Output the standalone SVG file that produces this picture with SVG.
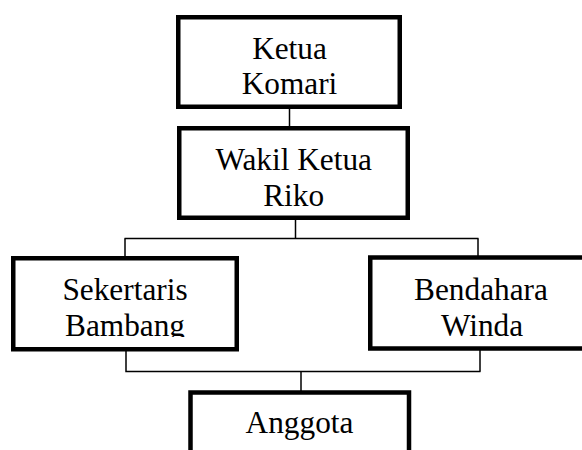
<svg xmlns="http://www.w3.org/2000/svg" width="582" height="450" viewBox="0 0 582 450">
<style>
.box{fill:#fff;stroke:#000;stroke-width:4.5}
.lbl{font-family:"Liberation Serif","Times New Roman",serif;font-size:31.3px;fill:#000;text-anchor:middle}
.conn{fill:none;stroke:#000;stroke-width:1.5}
</style>
<defs>
<clipPath id="clipSek"><rect x="0" y="0" width="300" height="337"/></clipPath>
<clipPath id="clipAng"><rect x="0" y="0" width="582" height="434.5"/></clipPath>
</defs>
<rect width="582" height="450" fill="#fff"/>
<g id="connectors">
<path class="conn" d="M289.5 107 V126"/>
<path class="conn" d="M295.5 218 V238.5"/>
<path class="conn" d="M124.5 238.5 H478.5"/>
<path class="conn" d="M125 238.5 V256"/>
<path class="conn" d="M478 238.5 V256"/>
<path class="conn" d="M126 351 V371.5 H480.5"/>
<path class="conn" d="M480 350 V371.5"/>
<path class="conn" d="M301 371.5 V391"/>
</g>
<g id="ketua">
<rect class="box" x="178.25" y="17.25" width="221.5" height="89.5"/>
<text class="lbl" x="289.5" y="59">Ketua</text>
<text class="lbl" x="289.5" y="94">Komari</text>
</g>
<g id="wakil">
<rect class="box" x="179.25" y="128.25" width="228.5" height="89.5"/>
<text class="lbl" x="293.7" y="170">Wakil Ketua</text>
<text class="lbl" x="293.7" y="206">Riko</text>
</g>
<g id="sekertaris">
<rect class="box" x="13.25" y="258.25" width="223.5" height="91"/>
<text class="lbl" x="125" y="300">Sekertaris</text>
<text class="lbl" x="125" y="336" clip-path="url(#clipSek)">Bambang</text>
</g>
<g id="bendahara">
<rect class="box" x="370.25" y="257.5" width="224" height="91"/>
<text class="lbl" x="481" y="300">Bendahara</text>
<text class="lbl" x="482" y="336">Winda</text>
</g>
<g id="anggota">
<rect class="box" x="190.5" y="392.5" width="218.5" height="80"/>
<text class="lbl" x="299.5" y="433">Anggota</text>
</g>
</svg>
